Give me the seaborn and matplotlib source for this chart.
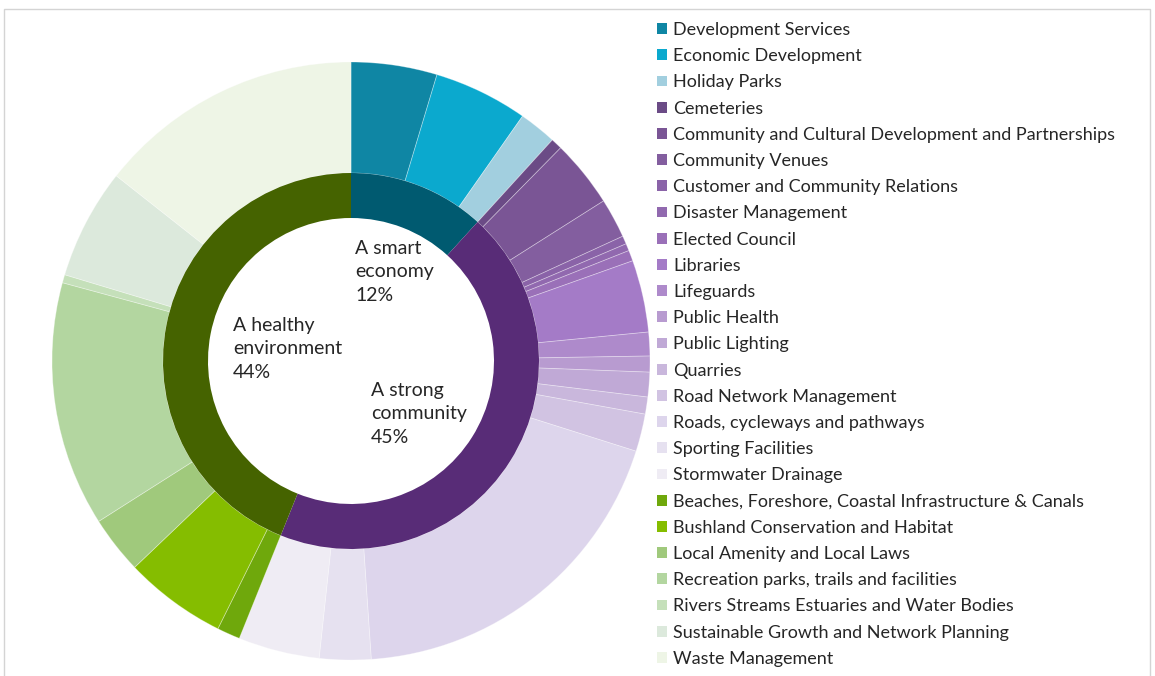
import matplotlib
matplotlib.use("Agg")
import matplotlib.pyplot as plt
from matplotlib.patches import Patch, Rectangle
import seaborn as sns

# ---------------- data ----------------
services = [
    "Development Services", "Economic Development", "Holiday Parks",
    "Cemeteries", "Community and Cultural Development and Partnerships",
    "Community Venues", "Customer and Community Relations",
    "Disaster Management", "Elected Council", "Libraries", "Lifeguards",
    "Public Health", "Public Lighting", "Quarries", "Road Network Management",
    "Roads, cycleways and pathways", "Sporting Facilities",
    "Stormwater Drainage",
    "Beaches, Foreshore, Coastal Infrastructure & Canals",
    "Bushland Conservation and Habitat", "Local Amenity and Local Laws",
    "Recreation parks, trails and facilities",
    "Rivers Streams Estuaries and Water Bodies",
    "Sustainable Growth and Network Planning", "Waste Management",
]
service_share = [
    4.64, 5.08, 2.03,
    0.61, 3.64, 2.14, 0.44, 0.39, 0.58, 3.89, 1.28, 0.86, 1.33, 0.92, 2.03,
    19.03, 2.78, 4.39,
    1.25, 5.53, 3.11, 13.22, 0.44, 5.97, 14.36,
]
service_colors = [
    "#0F86A4", "#0BA9CE", "#A2CFDF",
    "#6B4B86", "#7A5595", "#835E9F", "#8A63A8", "#9169AF", "#9A70B8",
    "#A47BC7", "#AE8ACB", "#B89BD0", "#C0A9D6", "#C9B7DC", "#D1C3E2",
    "#DDD5EC", "#E6E1F0", "#EFECF4",
    "#6FA80C", "#85BD00", "#A0C97C", "#B3D6A0", "#C5E0BA", "#DCE9DC", "#EEF5E6",
]
themes = ["A smart\neconomy\n12%", "A strong\ncommunity\n45%", "A healthy\nenvironment\n44%"]
theme_groups = [3, 15, 7]  # number of services in each theme (in order)
theme_colors = ["#005A70", "#582C77", "#456300"]

# theme totals built from service shares
theme_share = []
i = 0
for n in theme_groups:
    theme_share.append(sum(service_share[i:i + n]))
    i += n

# ---------------- figure ----------------
sns.set_theme(style="white")
plt.rcParams["font.family"] = ["Lato", "DejaVu Sans"]

W, H = 1155, 676
fig = plt.figure(figsize=(W / 100, H / 100), dpi=100)
fig.patch.set_facecolor("white")

# light frame
fig.patches.append(Rectangle((3.5 / W, -0.01), 1146 / W, (H - 8.5) / H + 0.01,
                             transform=fig.transFigure, fill=False,
                             edgecolor="#D4D4D4", linewidth=1.0))

cx, cy = 351, H - 361
R = 300
ax = fig.add_axes([(cx - R) / W, (cy - R) / H, 2 * R / W, 2 * R / H])

outer_r, outer_w = 299, 111
inner_r, inner_w = 188, 45

ax.pie(service_share, colors=service_colors, radius=outer_r,
       startangle=90, counterclock=False,
       wedgeprops=dict(width=outer_w, edgecolor=(1, 1, 1, 0.35), linewidth=0.6))
ax.pie(theme_share, colors=theme_colors, radius=inner_r,
       startangle=90, counterclock=False,
       wedgeprops=dict(width=inner_w, edgecolor="none"))
ax.set_xlim(-R, R)
ax.set_ylim(-R, R)
ax.set_aspect("equal")
ax.axis("off")

def px(x, y):
    return (x - cx), (H - y) - cy

label_pos = [(355, 272), (371, 414), (233, 349)]
for txt, (x, y) in zip(themes, label_pos):
    dx, dy = px(x, y)
    ax.text(dx, dy, txt, ha="left", va="center", fontsize=14,
            color="#262626", linespacing=1.45)

handles = [Patch(facecolor=c, edgecolor="none") for c in service_colors]
leg = fig.legend(handles, services, loc="upper left",
                 bbox_to_anchor=(657 / W, 1 - 22 / H),
                 frameon=False, fontsize=13, handlelength=0.55,
                 handleheight=0.55, handletextpad=0.35, labelspacing=0.565,
                 borderpad=0, borderaxespad=0)
for t in leg.get_texts():
    t.set_color("#262626")

fig.savefig("out.png", dpi=100, facecolor="white")
